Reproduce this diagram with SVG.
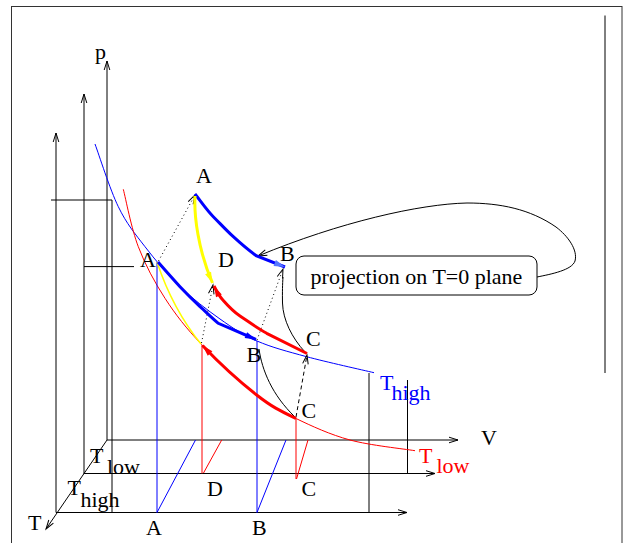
<svg xmlns="http://www.w3.org/2000/svg" width="624" height="543" viewBox="0 0 624 543">
<style>
.ln{fill:none;stroke:#000;stroke-width:1}
.bl{fill:none;stroke:#00f;stroke-width:1}
.rd{fill:none;stroke:#f00;stroke-width:1}
.thb{fill:none;stroke:#00f;stroke-width:3}
.thr{fill:none;stroke:#f00;stroke-width:3}
.dot{fill:none;stroke:#000;stroke-width:1;stroke-dasharray:1,3}
.dsh{fill:none;stroke:#000;stroke-width:1;stroke-dasharray:4,3}
text{font-family:"Liberation Serif","Times New Roman",serif;font-size:22px;fill:#000}
.tb{fill:#00f}
.tr{fill:#f00}
</style>
<defs>
<marker id="ax" markerUnits="userSpaceOnUse" markerWidth="12" markerHeight="8" refX="10" refY="4" orient="auto" overflow="visible"><path d="M1,1.2 L10,4 L1,6.8" fill="none" stroke="#000" stroke-width="1"/></marker>
<marker id="mb" markerUnits="userSpaceOnUse" markerWidth="12" markerHeight="8" refX="11" refY="4" orient="auto" overflow="visible"><path d="M0,0.8 L11,4 L0,7.2 Z" fill="#00f"/></marker>
<marker id="mb2" markerUnits="userSpaceOnUse" markerWidth="12" markerHeight="8" refX="11" refY="4" orient="auto" overflow="visible"><path d="M0,0.8 L11,4 L0,7.2 Z" fill="#5577ff"/></marker>
<marker id="mr" markerUnits="userSpaceOnUse" markerWidth="12" markerHeight="8" refX="11" refY="4" orient="auto" overflow="visible"><path d="M0,0.8 L11,4 L0,7.2 Z" fill="#f00"/></marker>
<marker id="my" markerUnits="userSpaceOnUse" markerWidth="12" markerHeight="8" refX="11" refY="4" orient="auto" overflow="visible"><path d="M0,0.8 L11,4 L0,7.2 Z" fill="#ff0"/></marker>
</defs>
<rect x="11.5" y="6.5" width="610.5" height="560" fill="#fff" stroke="#333" stroke-width="1"/>
<line class="ln" x1="605" y1="15.5" x2="605" y2="373"/>
<g id="axes">
<path class="ln" d="M107,440 L107,61" marker-end="url(#ax)"/>
<path class="ln" d="M84,474 L84,94" marker-end="url(#ax)"/>
<path class="ln" d="M56,512.5 L56,133" marker-end="url(#ax)"/>
<path class="ln" d="M107,440 L458,440" marker-end="url(#ax)"/>
<path class="ln" d="M84,473.5 L435,473.5" marker-end="url(#ax)"/>
<path class="ln" d="M56,512.5 L407,512.5" marker-end="url(#ax)"/>
<path class="ln" d="M107,440 L46,529" marker-end="url(#ax)"/>
<path class="ln" d="M51,200 L112,200 L112,512.5"/>
<path class="ln" d="M84,266.6 L134,266.6"/>
<path class="ln" d="M369,373 L369,512.5"/>
<path class="ln" d="M407.5,380 L407.5,473.5"/>
</g>
<g id="isotherms">
<path class="bl" d="M95,144 C98.88,154.45 109.97,189.58 118.3,206.7 C126.63,223.82 134.72,233.37 145,246.7 C155.28,260.03 167.5,274.65 180,286.7 C192.5,298.75 207.17,309.95 220,319 C232.83,328.05 242.55,334.72 257,341 C271.45,347.28 287.2,351.42 306.7,356.7 C326.2,361.98 362.78,370.03 374,372.7"/>
<path class="rd" d="M123.3,189.3 C125.8,198.87 131.35,228.53 138.3,246.7 C145.25,264.87 154.45,282 165,298.3 C175.55,314.6 186.32,328.38 201.6,344.5 C216.88,360.62 240.97,382.67 256.7,395 C272.43,407.33 280.45,411 296,418.5 C311.55,426 330.17,434.63 350,440 C369.83,445.37 404.17,448.92 415,450.7"/>
</g>
<g id="drops">
<path class="bl" d="M157,262 L157,512.5 L195.5,440"/>
<path class="bl" d="M257,341 L257,512.5 L286,440"/>
<path class="rd" d="M202,345 L202,473.5"/>
<path class="rd" d="M203.5,473 L221.7,440"/>
<path class="rd" d="M296,419 L296,479"/>
<path class="rd" d="M296.5,479 L308,440"/>
</g>
<g id="connectors">
<path class="dot" d="M158.5,261 L195,195" marker-end="url(#ax)"/>
<path class="dot" d="M201.5,343 L213,285" marker-end="url(#ax)"/>
<path class="dot" d="M257,340 L283,269" marker-end="url(#ax)"/>
<path class="dsh" d="M296,417 L307,355" marker-end="url(#ax)"/>
<path class="ln" d="M259,349 C262,370 272,395 295,417"/>
<path class="ln" d="M305,352 C292,338 283,320 282.5,303 C282.3,292 282.5,284 283,277"/>
<path class="ln" d="M537,277 C552,274 572,270 575,261 C578,250 568,236 556,227 C530,209 500,203 467,203 C420,204 340,222 258,256" marker-end="url(#ax)"/>
</g>
<g id="cycle-upper">
<path class="thb" d="M195,194 C201,201.5 206.6,210 213.3,216.7 C220,223.4 226,230 233.3,236.7 C240.6,243.4 248,250 256.7,256 L285,267" marker-end="url(#mb2)"/>
<path fill="none" stroke="#ff0" stroke-width="3" d="M195,196 C194,215 198,250 212.5,283" marker-end="url(#my)"/>
<path class="thr" d="M307,353.5 L266.7,333.3 C257,328 249,322 240,316 C234,312 229,307 223.3,300.5 C219,296 216,290 214,286" marker-end="url(#mr)"/>
</g>
<g id="cycle-lower">
<path fill="none" stroke="#ff0" stroke-width="1.5" d="M157,262 C163,280 175,312 201,344"/>
<path class="thb" d="M158,262 C165,270 172,278 180,286.7 C187,294 193,300 200,306.7 C206,312 212,318 218.3,323.3 L256,339.5" marker-end="url(#mb)"/>
<path class="thr" d="M296,418.5 C280.45,411 272.43,407.33 256.7,395 C240.97,382.67 216.88,360.62 202.5,345.5" marker-end="url(#mr)"/>
</g>
<g id="projection-note">
<rect x="296" y="256" width="241" height="39" rx="8" ry="8" fill="#fff" stroke="#000" stroke-width="1"/>
<text x="416.5" y="283.5" text-anchor="middle">projection on T=0 plane</text>
</g>
<g id="labels">
<text x="95" y="59">p</text>
<text x="196" y="183">A</text>
<text x="140" y="267">A</text>
<text x="218" y="267">D</text>
<text x="280" y="261">B</text>
<text x="306" y="346">C</text>
<text x="246.5" y="362">B</text>
<text x="301.5" y="417.5">C</text>
<text x="481" y="445">V</text>
<text x="207" y="496">D</text>
<text x="301.5" y="495.5">C</text>
<text x="146" y="535">A</text>
<text x="252" y="535">B</text>
<text x="28" y="529.5">T</text>
<text x="90" y="463">T</text><text x="107" y="473.5">low</text>
<text x="67.5" y="495">T</text><text x="80.5" y="507">high</text>
<text class="tb" x="380" y="390">T</text><text class="tb" x="391.5" y="400">high</text>
<text class="tr" x="419" y="462.7">T</text><text class="tr" x="436.5" y="473.3">low</text>
</g>
</svg>
